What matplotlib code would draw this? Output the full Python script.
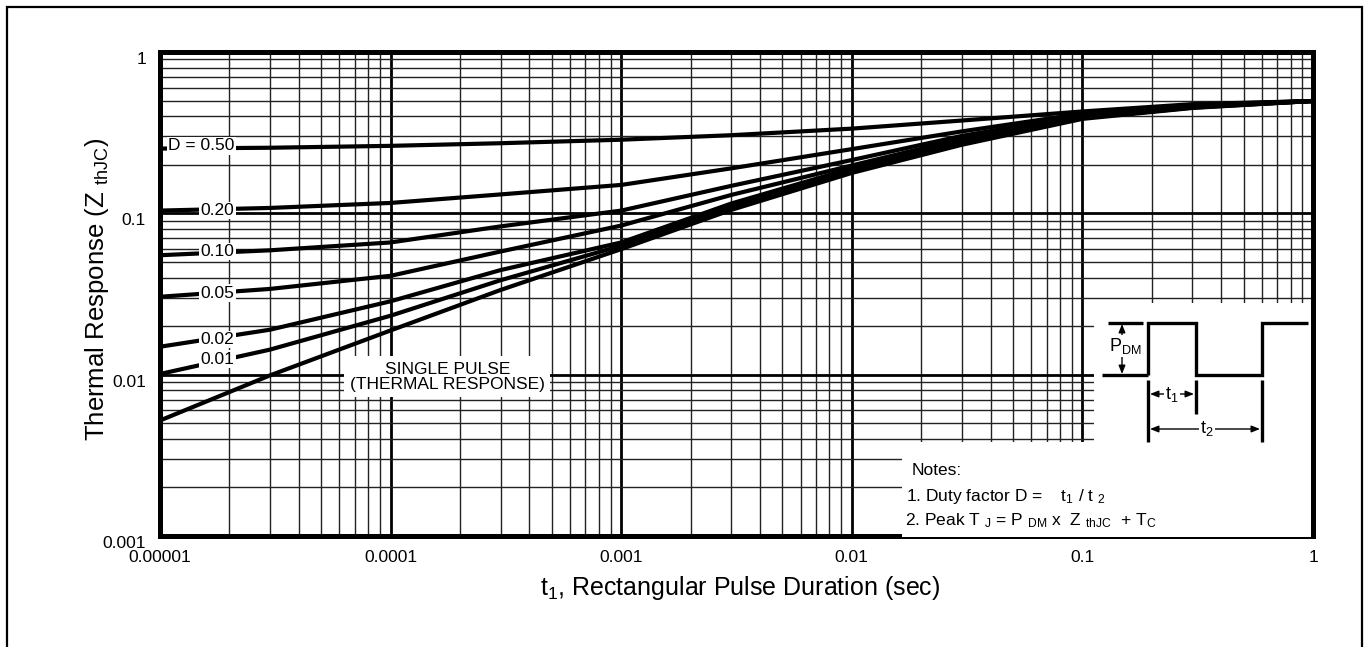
import numpy as np
import matplotlib
matplotlib.use("Agg")
import matplotlib.pyplot as plt
from matplotlib.ticker import LogLocator, NullFormatter
from matplotlib.patches import Rectangle, FancyArrowPatch
from matplotlib.lines import Line2D

plt.rcParams["font.family"] = ["Liberation Sans", "DejaVu Sans"]
plt.rcParams["mathtext.fontset"] = "custom"
plt.rcParams["mathtext.rm"] = "Liberation Sans"
plt.rcParams["mathtext.default"] = "regular"

# pulse duration (s) and transient thermal impedance for each duty factor
t1 = [1e-5, 3e-5, 1e-4, 3e-4, 1e-3, 3e-3, 1e-2, 3e-2, 1e-1, 3e-1, 1.0]
z_d50 = [0.252, 0.255, 0.262, 0.272, 0.286, 0.305, 0.335, 0.376, 0.428, 0.475, 0.497]
z_d20 = [0.104, 0.108, 0.116, 0.131, 0.150, 0.190, 0.250, 0.322, 0.415, 0.470, 0.497]
z_d10 = [0.055, 0.059, 0.066, 0.083, 0.104, 0.148, 0.214, 0.302, 0.405, 0.465, 0.497]
z_d05 = [0.0304, 0.034, 0.041, 0.058, 0.084, 0.130, 0.198, 0.290, 0.398, 0.460, 0.497]
z_d02 = [0.0149, 0.019, 0.0285, 0.0445, 0.066, 0.115, 0.190, 0.281, 0.393, 0.455, 0.497]
z_d01 = [0.0101, 0.0143, 0.0232, 0.0385, 0.063, 0.110, 0.185, 0.274, 0.390, 0.452, 0.497]
z_single = [0.0052, 0.0099, 0.0188, 0.0335, 0.060, 0.105, 0.178, 0.266, 0.385, 0.450, 0.497]

curves = [z_d50, z_d20, z_d10, z_d05, z_d02, z_d01, z_single]
curve_labels = ["D = 0.50", "0.20", "0.10", "0.05", "0.02", "0.01"]
label_y = [0.262, 0.104, 0.058, 0.032, 0.0165, 0.0125]

x_ticks = [1e-5, 1e-4, 1e-3, 1e-2, 1e-1, 1]
x_ticklabels = ["0.00001", "0.0001", "0.001", "0.01", "0.1", "1"]
y_ticks = [1e-3, 1e-2, 1e-1, 1]
y_ticklabels = ["0.001", "0.01", "0.1", "1"]

W, H = 1368, 647


def fp(x, y):
    # pixel position (from top-left) -> figure fraction
    return (x / W, 1 - y / H)


fig = plt.figure(figsize=(W / 100, H / 100), dpi=100)
ax = fig.add_axes([160 / W, 1 - 536 / H, (1313 - 160) / W, (536 - 52) / H])
ax.set_xscale("log")
ax.set_yscale("log")
ax.set_xlim(1e-5, 1)
ax.set_ylim(1e-3, 1)

ax.set_xticks(x_ticks, x_ticklabels)
ax.set_yticks(y_ticks, y_ticklabels)
for axis in (ax.xaxis, ax.yaxis):
    axis.set_minor_locator(LogLocator(base=10, subs=np.arange(2, 10), numticks=100))
    axis.set_minor_formatter(NullFormatter())
ax.tick_params(which="both", length=0, labelsize=12.5)
ax.tick_params(axis="x", pad=10)
ax.tick_params(axis="y", pad=10)
for lab in ax.get_yticklabels():
    lab.set_verticalalignment("top")
    lab.set_y(lab.get_position()[1])
ax.grid(True, which="major", color="black", lw=2.0)
ax.grid(True, which="minor", color="#222222", lw=1.0)
for sp in ax.spines.values():
    sp.set_linewidth(3.6)

for z in curves:
    ax.plot(t1, z, color="black", lw=3.0, solid_capstyle="butt", zorder=3)

for txt, yv in zip(curve_labels, label_y):
    ax.text(2.1e-5, yv, txt, ha="right", va="center", fontsize=12.5, zorder=5,
            bbox=dict(facecolor="white", edgecolor="none", pad=1.0))

ax.text(1.76e-4, 0.0097, "SINGLE PULSE\n(THERMAL RESPONSE)", ha="center", va="center",
        fontsize=12.5, linespacing=1.0, zorder=5,
        bbox=dict(facecolor="white", edgecolor="none", pad=4.0))

# blank areas for the pulse sketch and the notes
ax.add_patch(Rectangle(fp(1094, 442), (1311 - 1094) / W, (442 - 303) / H,
                       transform=fig.transFigure, facecolor="white", edgecolor="none", zorder=2))
ax.add_patch(Rectangle(fp(902, 536.5), (1310.5 - 902) / W, (536.5 - 442) / H,
                       transform=fig.transFigure, facecolor="white", edgecolor="none",
                       zorder=2.6, clip_on=False))

# notes
fig.text(*fp(912, 475), "Notes:", fontsize=12.5, ha="left", va="baseline")
fig.text(*fp(906, 501), "1. Duty factor D =    t$_1$ / t $_2$", fontsize=12.5, ha="left", va="baseline")
fig.text(*fp(905, 525), "2. Peak T $_J$ = P $_{DM}$ x  Z $_{thJC}$  + T$_C$", fontsize=12.5,
         ha="left", va="baseline")


# pulse sketch
def seg(pts, lw=2.4):
    xs = [fp(x, y)[0] for x, y in pts]
    ys = [fp(x, y)[1] for x, y in pts]
    fig.add_artist(Line2D(xs, ys, color="black", lw=lw, solid_capstyle="butt",
                          solid_joinstyle="miter"))


seg([(1102, 375), (1148, 375)])
seg([(1108, 323), (1143, 323)])
seg([(1148, 375), (1148, 323), (1196, 323), (1196, 375), (1262, 375), (1262, 323), (1308, 323)])
seg([(1148, 380), (1148, 442)])
seg([(1196, 380), (1196, 414)])
seg([(1262, 380), (1262, 442)])


def arrow(a, b):
    fig.add_artist(FancyArrowPatch(
        fp(*a), fp(*b), transform=fig.transFigure, arrowstyle="-|>,head_length=5,head_width=2",
        color="black", lw=1.0, shrinkA=0, shrinkB=0))


arrow((1122, 345), (1122, 324))
arrow((1122, 345), (1122, 374))
fig.text(*fp(1125, 346), "P$_{DM}$", fontsize=13, ha="center", va="center",
         bbox=dict(facecolor="white", edgecolor="none", pad=0.5))
arrow((1172, 394), (1150, 394))
arrow((1172, 394), (1194, 394))
fig.text(*fp(1172, 394), "t$_1$", fontsize=13, ha="center", va="center",
         bbox=dict(facecolor="white", edgecolor="none", pad=0.5))
arrow((1207, 429), (1150, 429))
arrow((1207, 429), (1260, 429))
fig.text(*fp(1207, 429), "t$_2$", fontsize=13, ha="center", va="center",
         bbox=dict(facecolor="white", edgecolor="none", pad=0.5))

# axis titles
fig.text(*fp(97, 289), "Thermal Response (Z $_{thJC}$)", rotation=90, fontsize=18.5,
         ha="center", va="center")
fig.text(*fp(740, 588), "t$_1$, Rectangular Pulse Duration (sec)", fontsize=18,
         ha="center", va="center")

# outer frame
fig.add_artist(Rectangle((7 / W, -0.05), (1362 - 7) / W, 1 - 7 / H + 0.05,
                         transform=fig.transFigure, fill=False, edgecolor="black", lw=1.6))

fig.savefig("out.png", dpi=100)
